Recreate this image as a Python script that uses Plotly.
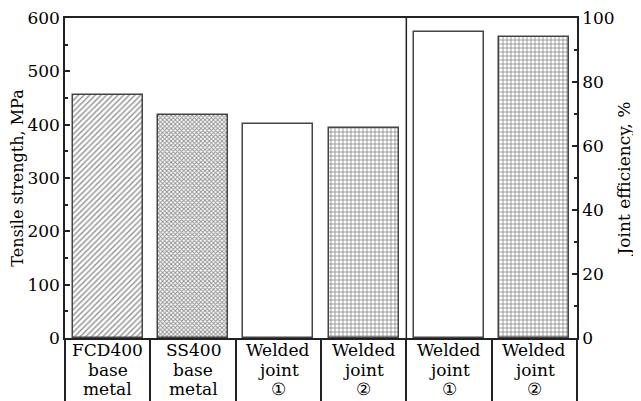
import plotly.graph_objects as go

# ---- data ----
tensile_labels = ["FCD400<br>base<br>metal", "SS400<br>base<br>metal",
                  "Welded<br>joint<br>①", "Welded<br>joint<br>②"]
tensile_values = [455, 418, 401, 394]          # MPa
efficiency_labels = ["Welded<br>joint<br>①", "Welded<br>joint<br>②"]
efficiency_values = [95.6, 94.0]               # %
tensile_patterns = ["/", "x", "", "+"]
efficiency_patterns = ["", "+"]

all_labels = tensile_labels + efficiency_labels
n = len(all_labels)
x_t = list(range(len(tensile_values)))
x_e = list(range(len(tensile_values), n))
boundaries = [i - 0.5 for i in range(n + 1)]
divider = len(tensile_values) - 0.5

FONT = "DejaVu Serif"
LINE = "#222222"
EDGE = "#444444"

solid_map = {"/": 0.35, "x": 0.55, "+": 0.4, "": 0.3}
size_map = {"/": 4, "x": 3, "+": 4, "": 4}


def pat(shapes):
    return dict(shape=shapes, fgcolor="#222222", bgcolor="white",
                size=[size_map[s] for s in shapes],
                solidity=[solid_map[s] for s in shapes])


fig = go.Figure()
fig.add_trace(go.Bar(
    x=x_t, y=tensile_values, width=0.82, yaxis="y", xaxis="x",
    marker=dict(color="white", line=dict(color=EDGE, width=1.5),
                pattern=pat(tensile_patterns)),
    showlegend=False, hoverinfo="skip"))
fig.add_trace(go.Bar(
    x=x_e, y=efficiency_values, width=0.82, yaxis="y2", xaxis="x",
    marker=dict(color="white", line=dict(color=EDGE, width=1.5),
                pattern=pat(efficiency_patterns)),
    showlegend=False, hoverinfo="skip"))
# dummy trace to activate xaxis2 (category separators)
fig.add_trace(go.Scatter(x=[None], y=[None], xaxis="x2", yaxis="y",
                         showlegend=False, hoverinfo="skip"))

fig.add_shape(type="line", xref="x", yref="paper", x0=divider, x1=divider,
              y0=0, y1=1, line=dict(color=LINE, width=1.5))

# category labels, one annotation per text line
for i, lab in enumerate(all_labels):
    for k, part in enumerate(lab.split("<br>")):
        fig.add_annotation(x=i, y=0, xref="x", yref="paper", text=part,
                           showarrow=False, yanchor="middle", xanchor="center",
                           yshift=-(12 + 19.5 * k), borderpad=0,
                           font=dict(family=FONT, size=17, color="black"))

# page body has an 8px margin: size the figure so the plot lands where it should
fig.update_layout(
    width=633, height=393,
    margin=dict(l=57, r=64, t=10, b=63),
    paper_bgcolor="white", plot_bgcolor="white",
    font=dict(family=FONT, size=17, color="black"),
    bargap=0,
    xaxis=dict(range=[-0.5, n - 0.5], showticklabels=False,
               ticks="", showline=True, linecolor=LINE, linewidth=1.5, mirror=True,
               showgrid=False, zeroline=False, fixedrange=True, automargin=False),
    xaxis2=dict(range=[-0.5, n - 0.5], overlaying="x", anchor="y", side="bottom",
                tickvals=boundaries, ticks="outside", ticklen=63, tickwidth=1.5,
                tickcolor=LINE, showticklabels=False, showgrid=False,
                zeroline=False, showline=False, automargin=False),
    yaxis=dict(range=[0, 600], dtick=100, ticks="inside", ticklen=5, tickwidth=1.5,
               tickcolor=LINE, showline=True, linecolor=LINE, linewidth=1.5,
               showgrid=False, zeroline=False, automargin=False,
               ticklabeloverflow="allow",
               minor=dict(dtick=50, ticks="inside", ticklen=3, tickcolor=LINE),
               title=dict(text="Tensile strength, MPa", font=dict(size=16), standoff=6),
               tickfont=dict(size=17)),
    yaxis2=dict(range=[0, 100], dtick=20, overlaying="y", side="right", anchor="x",
                ticks="inside", ticklen=5, tickwidth=1.5, tickcolor=LINE,
                showline=True, linecolor=LINE, linewidth=1.5,
                showgrid=False, zeroline=False, automargin=False,
                ticklabeloverflow="allow",
                minor=dict(dtick=10, ticks="inside", ticklen=3, tickcolor=LINE),
                title=dict(text="Joint efficiency, %", font=dict(size=17), standoff=4),
                tickfont=dict(size=17)),
)

fig.write_html("out.html")
